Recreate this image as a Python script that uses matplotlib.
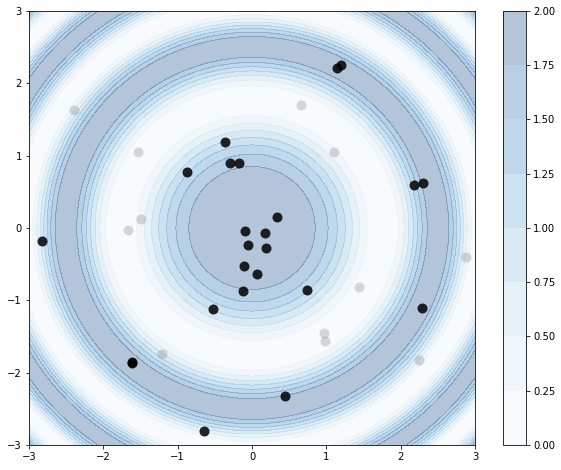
import numpy as np
import matplotlib
matplotlib.use('Agg')
import matplotlib.pyplot as plt

# points
pos_x = [1.148, 1.193, -0.363, -0.296, -0.171, -0.878, 0.332, -0.094, 0.175, -0.050,
         0.189, -0.103, 0.067, -0.117, -0.520, -1.610, -1.610, -0.646, -2.830, 0.745,
         2.292, 0.444, 2.184, 2.305]
pos_y = [2.208, 2.254, 1.185, 0.894, 0.894, 0.770, 0.156, -0.042, -0.074, -0.235,
         -0.281, -0.526, -0.641, -0.871, -1.120, -1.870, -1.850, -2.811, -0.184, -0.862,
         -1.111, -2.323, 0.594, 0.622]
neg_x = [-2.390, -1.529, -1.493, -1.664, 0.659, 1.108, -1.207, 1.444, 0.973, 0.987, 2.251, 2.879]
neg_y = [1.631, 1.055, 0.124, -0.028, 1.700, 1.046, -1.742, -0.820, -1.456, -1.563, -1.825, -0.405]

# background field
xx, yy = np.meshgrid(np.linspace(-3, 3, 200), np.linspace(-3, 3, 200))
zz = np.cos(xx**2 + yy**2) + 1

fig = plt.figure(figsize=(561/72, 470/72), dpi=72)
ax = fig.add_axes([0.0517, 0.0532, 0.795, 0.9234])
cax = fig.add_axes([0.8966, 0.0532, 0.041, 0.9234])

cs = ax.contourf(xx, yy, zz, cmap='Blues', alpha=0.3)
ax.scatter(neg_x, neg_y, s=100, color='gray', alpha=0.3, linewidths=0)
ax.scatter(pos_x, pos_y, s=100, color='black', alpha=0.85, linewidths=0)
ax.set_xlim(-3, 3)
ax.set_ylim(-3, 3)

fig.colorbar(cs, cax=cax)
fig.savefig('out.png', dpi=72)
